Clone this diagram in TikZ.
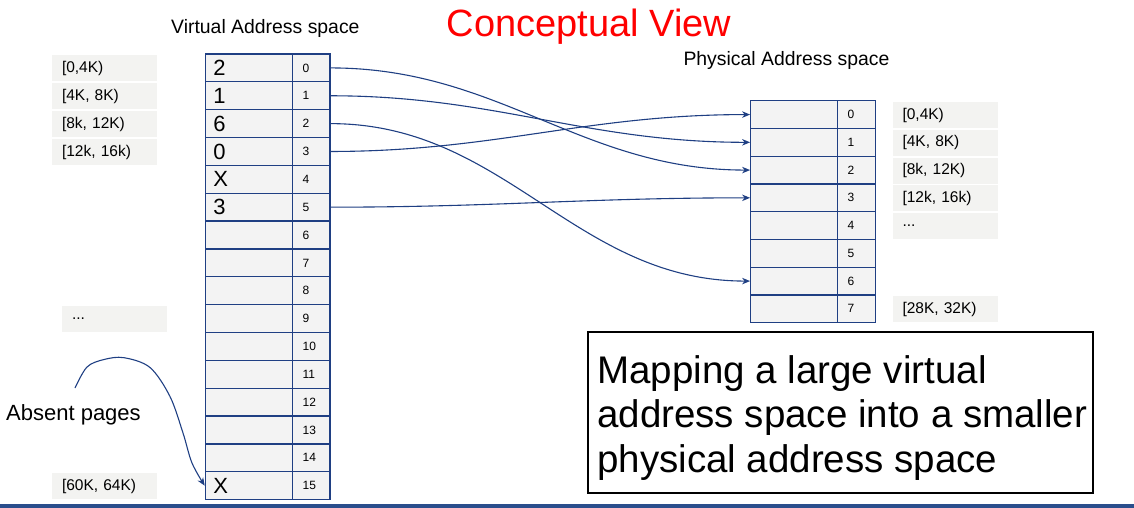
\documentclass[tikz,border=0pt]{standalone}
\usepackage{fontspec}
\setmainfont{Liberation Sans}
\usetikzlibrary{arrows.meta}
\definecolor{navy}{HTML}{1F3F83}
\definecolor{cellgray}{HTML}{F3F3F3}
\definecolor{labgray}{HTML}{F3F3F1}
\definecolor{barblue}{HTML}{2A4E8C}
\definecolor{titlered}{HTML}{FF0000}
\begin{document}
\begin{tikzpicture}[x=1pt,y=-1pt,
  valcell/.style={draw=navy, line width=1.2pt, fill=cellgray, minimum height=27.8pt,
    text width=71pt, inner xsep=8pt, inner ysep=0pt, align=left,
    font=\fontsize{22}{22}\selectfont},
  idxcell/.style={draw=navy, line width=1.2pt, fill=cellgray, minimum height=27.8pt,
    text width=17.3pt, inner xsep=10pt, inner ysep=0pt, align=left,
    font=\fontsize{12}{12}\selectfont},
  lab/.style={fill=labgray, minimum width=105pt, minimum height=26pt, text width=85pt,
    inner xsep=10pt, inner ysep=0pt, align=left, font=\fontsize{15.5}{15.5}\selectfont},
  header/.style={anchor=base west, inner sep=0pt, font=\fontsize{19.4}{19.4}\selectfont},
  conn/.style={draw=navy, line width=1.1pt, -{Stealth[length=8pt,width=6.5pt,inset=2.5pt]}}
]
\useasboundingbox (0,0) rectangle (1134,508);

% title and headers
\node[anchor=base, inner sep=0pt, text=titlered, font=\fontsize{38}{38}\selectfont] (title) at (589,37) {Conceptual View};
\node[header] (vhead) at (171,34) {Virtual Address space};
\node[header] (phead) at (683.3,66) {Physical Address space};

% virtual address space table
\foreach \i/\t in {0/2,1/1,2/6,3/0,4/X,5/3,6/,7/,8/,9/,10/,11/,12/,13/,14/,15/X}{
  \node[valcell, text width=71.4pt] (v\i) at (249, {54+27.85*(\i+0.5)}) {\t};
  \node[idxcell] (vi\i) at (311.35, {54+27.85*(\i+0.5)}) {\i};
}

% physical address space table
\foreach \i in {0,...,7}{
  \node[valcell, text width=71pt] (p\i) at (794.2, {100.7+27.75*(\i+0.5)}) {};
  \node[idxcell, text width=18pt] (pi\i) at (856.7, {100.7+27.75*(\i+0.5)}) {\i};
}

% left labels
\node[lab] (l0) at (104.5, 68.5) {[0,4K)};
\node[lab] (l1) at (104.5, 96.3) {[4K, 8K)};
\node[lab] (l2) at (104.5, 124.1) {[8k, 12K)};
\node[lab] (l3) at (104.5, 152) {[12k, 16k)};
\node[lab] (ldots) at (114.5, 319) {...};
\node[lab] (l15) at (104.5, 486) {[60K, 64K)};

% right labels
\node[lab] (r0) at (945, 115) {[0,4K)};
\node[lab] (r1) at (945, 142.7) {[4K, 8K)};
\node[lab] (r2) at (945, 170.5) {[8k, 12K)};
\node[lab] (r3) at (945, 198.2) {[12k, 16k)};
\node[lab] (rdots) at (945, 226) {...};
\node[lab] (r7) at (945, 309.2) {[28K, 32K)};

% mappings
\draw[conn] (vi0.east) to[out=0,in=180] (p2.west);
\draw[conn] (vi1.east) to[out=0,in=180] (p1.west);
\draw[conn] (vi2.east) to[out=0,in=180] (p6.west);
\draw[conn] (vi3.east) to[out=0,in=180] (p0.west);
\draw[conn] (vi5.east) to[out=0,in=180] (p3.west);

% absent pages
\node[anchor=base west, inner sep=0pt, font=\fontsize{22}{22}\selectfont] (absent) at (6,420) {Absent pages};
\coordinate (abs0) at (75,388);
\draw[conn] plot[smooth, tension=0.55] coordinates {(abs0) (87,367) (104,359.5) (124,357.7) (150,367.5) (170,396.5) (183,433) (192,463) (v15.west)};

% mapping box
\node[draw=black, line width=2pt, minimum width=505pt, minimum height=161pt, inner sep=0pt] (mapbox) at (840.8,412.8) {};
\node[anchor=north west, align=left, inner sep=0pt, font=\fontsize{38.5}{44.5}\selectfont] (maptext) at (597,355)
  {Mapping a large virtual\\address space into a smaller\\physical address space};

% bottom bar
\fill[barblue] (0,504) rectangle (1134,508);
\end{tikzpicture}
\end{document}
